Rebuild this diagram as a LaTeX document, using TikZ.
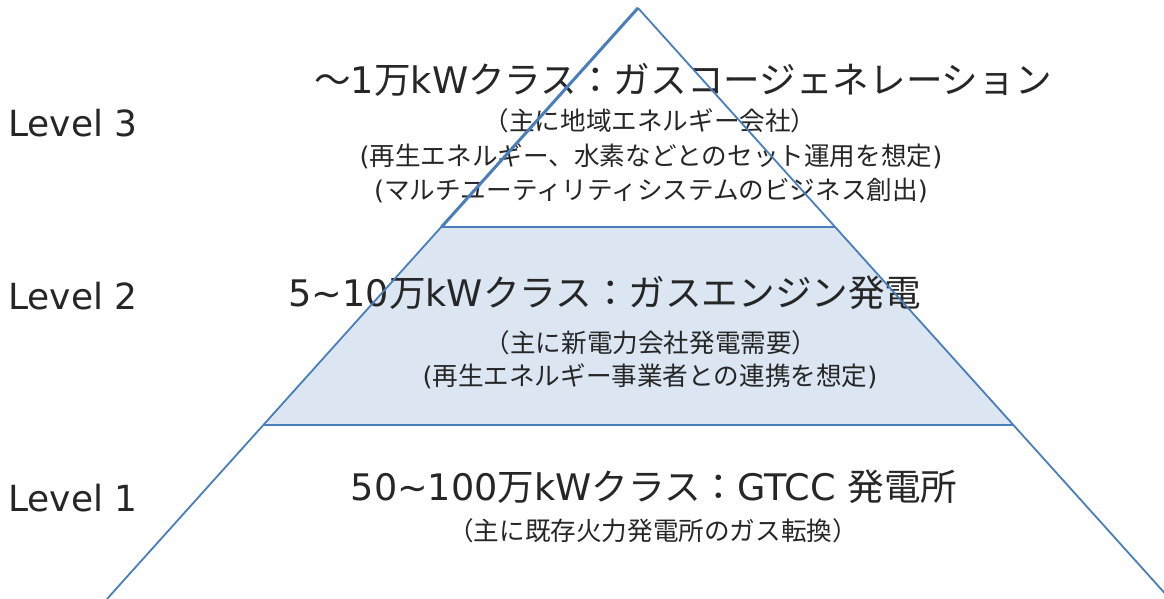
\documentclass[tikz,border=0pt]{standalone}
\usepackage{fontspec}
\setmainfont{DejaVu Sans}
\newfontfamily\jp{Noto Sans CJK JP}
\definecolor{edge}{HTML}{4A7EBB}
\definecolor{band}{HTML}{DCE6F2}
\definecolor{ink}{HTML}{262626}
\begin{document}
\begin{tikzpicture}[x=1pt,y=-1pt,
  lvl/.style={anchor=base west,inner sep=0pt,text=ink,font=\fontsize{36}{40}\selectfont},
  ttl/.style={anchor=base,inner sep=0pt,text=ink,font=\fontsize{36.6}{40}\selectfont},
  sub/.style={anchor=base,inner sep=0pt,text=ink,font=\fontsize{25.6}{30}\selectfont},
  edgeline/.style={draw=edge,line width=1.8pt,line join=miter}]
\useasboundingbox (0,0) rectangle (1164,599);
% geometry
\coordinate (apex) at (638,8);
\coordinate (bl) at (107,599);
\coordinate (br) at (1170,599);
\coordinate (t1) at (441.5,227);
\coordinate (t2) at (835,227);
\coordinate (b1) at (263.5,425);
\coordinate (b2) at (1013,425);
% middle band
\fill[band] (t1) -- (t2) -- (b2) -- (b1) -- cycle;
% texts
\node[lvl] (l3) at (8,137) {Level 3};
\node[lvl] (l2) at (8,309) {Level 2};
\node[lvl] (l1) at (8,511) {Level 1};
\node[ttl] (h3) at (683,94) {{\jp ～}1{\jp 万}kW{\jp クラス：ガスコージェネレーション}};
\node[sub] (s31) at (650,131) {\jp （主に地域エネルギー会社）};
\node[sub] (s32) at (651,165) {({\jp 再生エネルギー、水素などとのセット運用を想定})};
\node[sub] (s33) at (651,199) {({\jp マルチユーティリティシステムのビジネス創出})};
\node[ttl] (h2) at (605,306) {5\char"007E 10{\jp 万}kW{\jp クラス：ガスエンジン発電}};
\node[sub] (s21) at (651,352) {\jp （主に新電力会社発電需要）};
\node[sub] (s22) at (650,385) {({\jp 再生エネルギー事業者との連携を想定})};
\node[ttl] (h1) at (654,500) {50\char"007E 100{\jp 万}kW{\jp クラス：}GTCC {\jp 発電所}};
\node[sub] (s11) at (653,540) {\jp （主に既存火力発電所のガス転換）};
% pyramid lines
\draw[edgeline] (apex) -- (bl);
\draw[edgeline] (apex) -- (br);
\draw[draw=edge,line width=3pt] (apex) -- (t1);
\draw[edgeline] (t1) -- (t2);
\draw[edgeline] (b1) -- (b2);
\end{tikzpicture}
\end{document}
